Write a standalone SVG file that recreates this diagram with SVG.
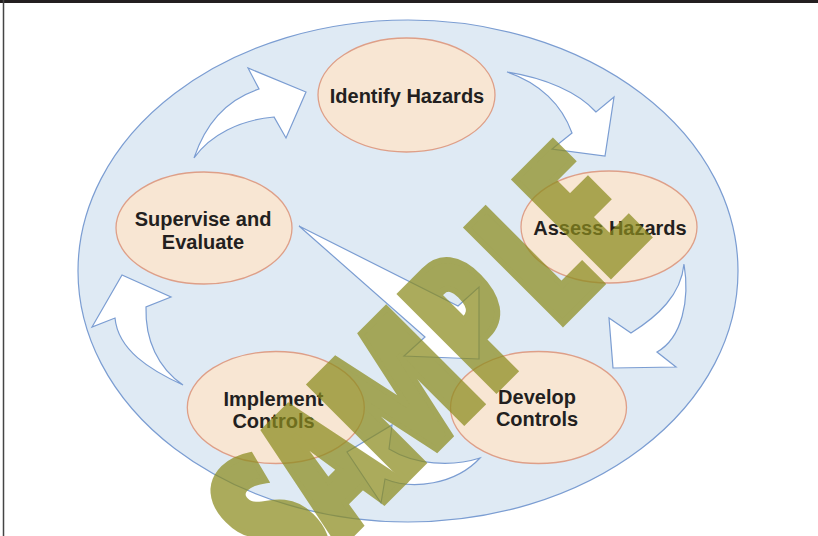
<svg xmlns="http://www.w3.org/2000/svg" width="818" height="536" viewBox="0 0 818 536">
<style>
.node ellipse{fill:#f8e6d3;stroke:#de9f88;stroke-width:1.3}
.node text{font-family:"Liberation Sans",Arial,sans-serif;font-weight:bold;font-size:20px;fill:#231f20;text-anchor:middle}
.arrow{fill:#ffffff;stroke:#7b9dd2;stroke-width:1.2;stroke-linejoin:miter}
.wm{font-family:"Open Sans","Liberation Sans",sans-serif;font-weight:800;font-stretch:condensed;font-size:189px;fill:#8c8c1e;stroke:#8c8c1e;stroke-width:6;stroke-linejoin:miter;vector-effect:non-scaling-stroke}
</style>
<rect x="0" y="0" width="818" height="536" fill="#ffffff"/>
<rect x="0" y="0" width="818" height="3" fill="#231f20"/>
<line x1="3.5" y1="0" x2="3.5" y2="536" stroke="#444" stroke-width="1.5"/>
<g id="cycle">
<ellipse cx="408" cy="271" rx="330" ry="251" fill="#dfeaf4" stroke="#7b9dd2" stroke-width="1.2"/>
</g>
<g id="connectors">
<path class="arrow" d="M194,158 C205,125 225,100 259,89 L248,68 L306,92 L286,138 L274,117 C240,120 210,135 194,158 Z"/>
<path class="arrow" d="M507,72 C545,78 578,92 596,112 L614,97 L605,156 L552,149 L572,133 C562,105 540,83 507,72 Z"/>
<path class="arrow" d="M684,264 C690,300 682,338 657,352 L676,367 L613,368 L609,318 L631,333 C658,316 681,295 684,264 Z"/>
<path class="arrow" d="M480,458 C452,467 415,465 389,449 L392,425 L347,452 L381,503 L385,479 C412,490 455,485 480,458 Z"/>
<path class="arrow" d="M183,385 C150,370 118,350 115,318 L92,327 L122,275 L171,297 L146,307 C145,340 158,368 183,385 Z"/>
<path class="arrow" d="M299,226 L458,306 L479,287 L479,359 L404,356 L425,337 Z"/>
</g>
<g id="identify" class="node">
<ellipse cx="406.5" cy="95" rx="88.5" ry="57"/>
<text x="407" y="103">Identify Hazards</text>
</g>
<g id="assess" class="node">
<ellipse cx="609" cy="227" rx="88" ry="56"/>
<text x="610" y="235">Assess Hazards</text>
</g>
<g id="develop" class="node">
<ellipse cx="538.5" cy="407.5" rx="88" ry="56"/>
<text x="537" y="404">Develop</text>
<text x="537" y="426">Controls</text>
</g>
<g id="implement" class="node">
<ellipse cx="275.8" cy="407.5" rx="88.5" ry="56"/>
<text x="273.5" y="406">Implement</text>
<text x="273.5" y="428">Controls</text>
</g>
<g id="supervise" class="node">
<ellipse cx="204" cy="228" rx="88" ry="56"/>
<text x="203" y="226">Supervise and</text>
<text x="203" y="249">Evaluate</text>
</g>
<g id="watermark" opacity="0.72">
<text class="wm" transform="translate(442.9,442.9) rotate(-45) scale(0.83,1)" x="-255.4 -174.7 -74.7 79.5 192.8 274.7" y="0">SAMPLE</text>
</g>
</svg>
